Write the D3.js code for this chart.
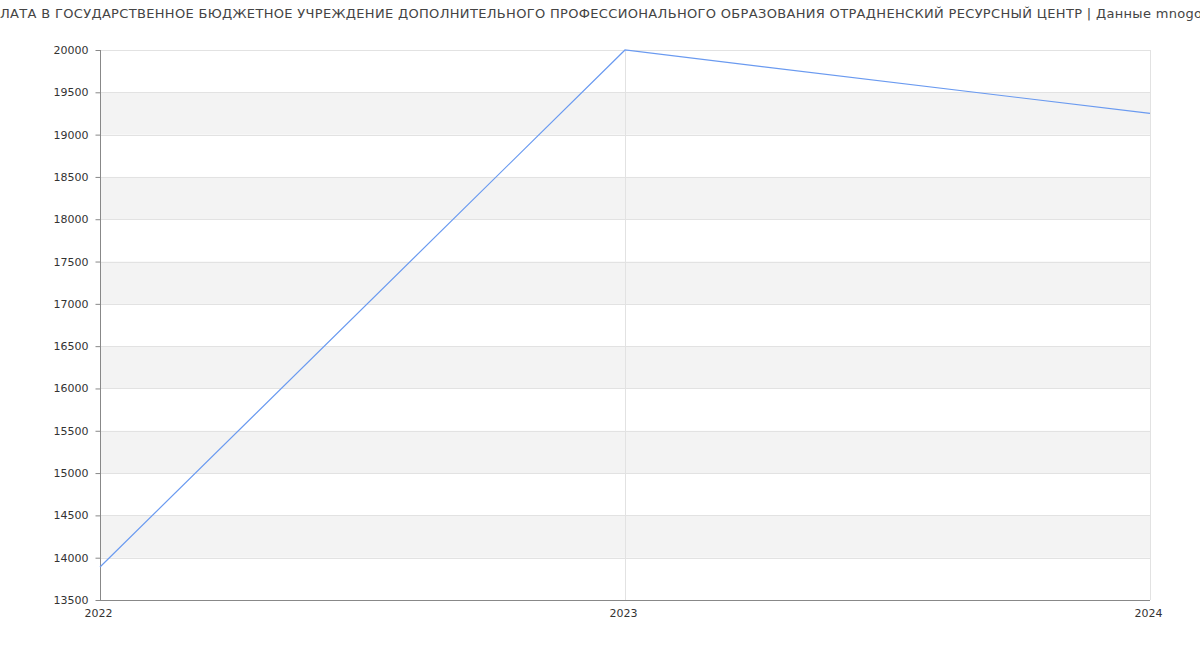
<!DOCTYPE html>
<html><head><meta charset="utf-8">
<script src="https://cdn.jsdelivr.net/npm/d3@7"></script>
<style>body{margin:0;background:#fff;}svg{display:block;font-family:"DejaVu Sans",sans-serif;}</style>
</head><body>
<svg id="c" width="1200" height="650"></svg>
<script>
const titlePrefix = "СРЕДНЯЯ ЗАРП";
const titleMain = "ЛАТА В ГОСУДАРСТВЕННОЕ БЮДЖЕТНОЕ УЧРЕЖДЕНИЕ ДОПОЛНИТЕЛЬНОГО ПРОФЕССИОНАЛЬНОГО ОБРАЗОВАНИЯ ОТРАДНЕНСКИЙ РЕСУРСНЫЙ ЦЕНТР";
const titleSuffix = " | Данные mnogo-zarplat.ru";
const years = [2022, 2023, 2024];
const salary = [13890, 20000, 19250];
const yTicks = [13500,14000,14500,15000,15500,16000,16500,17000,17500,18000,18500,19000,19500,20000];

const svg = d3.select("#c");
const m = {l:100, r:1150, t:50, b:600};
const x = d3.scaleLinear().domain([2022,2024]).range([m.l, m.r]);
const y = d3.scaleLinear().domain([13500,20000]).range([m.b, m.t]);

// bands
for (let i = 0; i < yTicks.length - 1; i++) {
  if (i % 2 === 1) {
    svg.append("rect").attr("x", m.l).attr("width", m.r - m.l)
      .attr("y", y(yTicks[i+1])).attr("height", y(yTicks[i]) - y(yTicks[i+1]))
      .attr("fill", "#f3f3f3");
  }
}
// horizontal grid
svg.append("g").selectAll("line").data(yTicks).join("line")
  .attr("x1", m.l).attr("x2", m.r)
  .attr("y1", d => Math.round(y(d)) + 0.5).attr("y2", d => Math.round(y(d)) + 0.5)
  .attr("stroke", "#e2e2e2");
// vertical grid
svg.append("g").selectAll("line").data(years.slice(1)).join("line")
  .attr("x1", d => Math.round(x(d)) + 0.5).attr("x2", d => Math.round(x(d)) + 0.5)
  .attr("y1", m.t).attr("y2", m.b)
  .attr("stroke", "#e2e2e2");

// axes
const yAxis = d3.axisLeft(y).tickValues(yTicks).tickSize(5).tickPadding(7).tickFormat(d3.format("d"));
const gy = svg.append("g").attr("transform", `translate(${m.l + 0.5},0)`).call(yAxis);
gy.select(".domain").attr("stroke", "#888").attr("d", `M0,${m.t}V${m.b}`);
gy.selectAll(".tick line").attr("stroke", "#888");
gy.selectAll(".tick text").attr("fill", "#333").style("font-size", "11px").style("font-family", "DejaVu Sans");

const xAxis = d3.axisBottom(x).tickValues(years).tickSize(0).tickPadding(9).tickFormat(d3.format("d"));
const gx = svg.append("g").attr("transform", `translate(0,${m.b + 0.5})`).call(xAxis);
gx.select(".domain").attr("stroke", "#888").attr("d", `M${m.l},0H${m.r}`);
gx.selectAll(".tick text").attr("fill", "#333").style("font-size", "11px").style("font-family", "DejaVu Sans").attr("dx", "-2");

// line
const line = d3.line().x((d,i) => x(years[i])).y(d => y(d));
svg.append("path").datum(salary).attr("d", line)
  .attr("fill", "none").attr("stroke", "#6a9af0").attr("stroke-width", 1.2);

// title: measure and fit letter-spacing so that the visible part matches
const probe = svg.append("text").style("font-size", "13px").text(titleMain);
const w0 = probe.node().getComputedTextLength();
probe.text(titlePrefix);
const wp0 = probe.node().getComputedTextLength();
probe.remove();
const targetMain = 1082;
const ls = (targetMain - w0) / (titleMain.length - 1);
const prefixW = wp0 + ls * titlePrefix.length;
svg.append("text").attr("x", -prefixW).attr("y", 18).attr("text-anchor", "start")
  .style("font-size", "13px").style("letter-spacing", ls + "px").attr("fill", "#444")
  .text(titlePrefix + titleMain + titleSuffix);
</script>
</body></html>
